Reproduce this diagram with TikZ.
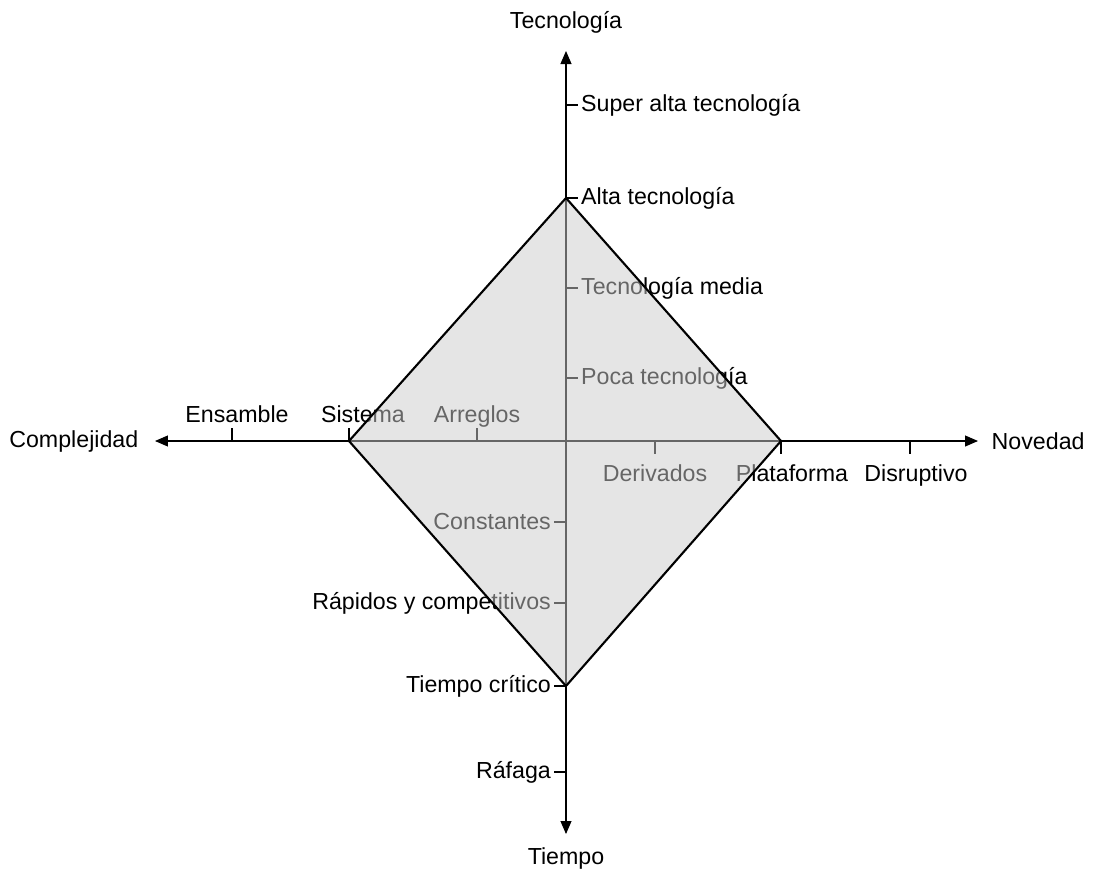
\documentclass[tikz,border=0pt]{standalone}
\usepackage{fontspec}
\setmainfont{Liberation Sans}
\usetikzlibrary{arrows.meta}

\begin{document}
\begin{tikzpicture}[font=\fontsize{13.2}{15.8}\selectfont,
	axisline/.style={line width=0.6pt, -{Triangle[length=0.26cm, width=0.22cm]}},
	tickline/.style={line width=0.6pt},
	lbl/.style={inner sep=1.5pt},
	zone/.style={fill=black!20, fill opacity=0.5},
	rim/.style={line width=1.2pt, line join=miter}]

\useasboundingbox (-11.32,-8.66) rectangle (10.62,8.82);

% The axes
\coordinate (o) at (0,0);
\coordinate (up) at (0,7.8);
\coordinate (down) at (0,-7.86);
\coordinate (left) at (-8.22,0);
\coordinate (right) at (8.24,0);
\draw [axisline] (o) -- (up);
\draw [axisline] (o) -- (down);
\draw [axisline] (o) -- (left);
\draw [axisline] (o) -- (right);

\node (tecnologia) at (0,8.38) {Tecnología};
\node (tiempo) at (0,-8.34) {Tiempo};
\node [anchor=east] (complejidad) at (-8.43,0) {Complejidad};
\node [anchor=west] (novedad) at (8.39,0) {Novedad};

% Tecnologia
\foreach \y/\name/\txt in {1.26/poca/Poca tecnología, 3.06/media/Tecnología media,
		4.86/alta/Alta tecnología, 6.72/superalta/Super alta tecnología}{
	\draw [tickline] (0,\y) -- ++(0.24,0) node [lbl, anchor=west] (\name) {\txt};
}

% Tiempo
\foreach \y/\name/\txt in {-1.62/constantes/Constantes, -3.24/rapidos/Rápidos y competitivos,
		-4.9/critico/Tiempo crítico, -6.62/rafaga/Ráfaga}{
	\draw [tickline] (0,\y) -- ++(-0.24,0) node [lbl, anchor=east] (\name) {\txt};
}

% Complejidad (tick x / label x)
\foreach \x/\lx/\name/\txt in {-1.78/-1.78/arreglos/Arreglos, -4.34/-4.06/sistema/Sistema,
		-6.68/-6.58/ensamble/Ensamble}{
	\draw [tickline] (\x,0) -- ++(0,0.26);
	\node [anchor=base] (\name) at (\lx,0.38) {\txt};
}

% Novedad (tick x / label x)
\foreach \x/\lx/\name/\txt in {1.78/1.78/derivados/Derivados, 4.3/4.52/plataforma/Plataforma,
		6.88/7.0/disruptivo/Disruptivo}{
	\draw [tickline] (\x,0) -- ++(0,-0.26);
	\node [anchor=base] (\name) at (\lx,-0.8) {\txt};
}

% The diamond
\coordinate (ctop) at (0,4.86);
\coordinate (cright) at (4.3,0);
\coordinate (cbottom) at (0,-4.9);
\coordinate (cleft) at (-4.34,0);
\fill [zone] (ctop) -- (cright) -- (cbottom) -- (cleft) -- cycle;
\draw [rim] (ctop) -- (cright) -- (cbottom) -- (cleft) -- cycle;
\end{tikzpicture}
\end{document}
